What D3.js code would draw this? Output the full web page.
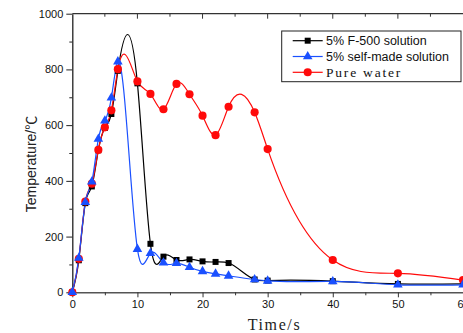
<!DOCTYPE html>
<html>
<head>
<meta charset="utf-8">
<script src="https://cdn.jsdelivr.net/npm/d3@7"></script>
<style>
html,body{margin:0;padding:0;background:#fff;}
svg{display:block;}
</style>
</head>
<body>
<svg id="chart" width="463" height="333"></svg>
<script>
// ---- data ----
const f500Time  = [0,1,2,3,4,5,6,7,10,12,14,16,18,20,22,24,28,30,40,50,60];
const f500Temp  = [0,115,320,380,510,590,640,795,750,174,128,116,118,111,109,105,46,42,40,30,30];
const selfTime  = [0,1,2,3,4,5,6,7,10,12,14,16,18,20,22,24,28,30,40,50,60];
const selfTemp  = [0,123,323,397,550,616,698,828,155,140,106,104,90,75,66,59,46,41,39,27,27];
const waterTime = [0,1,2,3,4,5,6,7,10,12,14,16,18,20,22,24,28,30,40,50,60];
const waterTemp = [0,120,326,390,511,592,653,801,757,712,657,748,711,634,564,666,646,514,116,68,44];
const seriesNames = ["5% F-500 solution","5% self-made solution","Pure water"];
const yTicks = [0,200,400,600,800,1000];
const xTicks = [0,10,20,30,40,50,60];

// ---- custom curve: natural cubic spline with x as parameter (Origin-like "Spline") ----
function SplineX(context){ this._context = context; }
SplineX.prototype = {
  areaStart(){ this._line = 0; },
  areaEnd(){ this._line = NaN; },
  lineStart(){ this._x = []; this._y = []; },
  point(x,y){ this._x.push(+x); this._y.push(+y); },
  lineEnd(){
    const X = this._x, Y = this._y, n = X.length, c = this._context;
    if(!n) return;
    c.moveTo(X[0],Y[0]);
    if(n === 2){ c.lineTo(X[1],Y[1]); return; }
    const h = [], M = new Array(n).fill(0);
    for(let i=0;i<n-1;i++) h.push(X[i+1]-X[i]);
    const a=[],b=[],cc=[],r=[];
    for(let i=1;i<n-1;i++){
      a.push(h[i-1]); b.push(2*(h[i-1]+h[i])); cc.push(h[i]);
      r.push(6*((Y[i+1]-Y[i])/h[i] - (Y[i]-Y[i-1])/h[i-1]));
    }
    const m = b.length;
    for(let i=1;i<m;i++){
      const w = a[i]/b[i-1];
      b[i] -= w*cc[i-1]; r[i] -= w*r[i-1];
    }
    const sol = new Array(m);
    sol[m-1] = r[m-1]/b[m-1];
    for(let i=m-2;i>=0;i--) sol[i] = (r[i]-cc[i]*sol[i+1])/b[i];
    for(let i=0;i<m;i++) M[i+1] = sol[i];
    for(let i=0;i<n-1;i++){
      const hi = h[i], s = (Y[i+1]-Y[i])/hi;
      const d0 = s - hi*(2*M[i]+M[i+1])/6;
      const d1 = s + hi*(M[i]+2*M[i+1])/6;
      c.bezierCurveTo(X[i]+hi/3, Y[i]+d0*hi/3, X[i+1]-hi/3, Y[i+1]-d1*hi/3, X[i+1], Y[i+1]);
    }
  }
};
const curveSplineX = ctx => new SplineX(ctx);

// ---- layout ----
const svg = d3.select("#chart");
const x = d3.scaleLinear().domain([0,60]).range([72.3,463]);
const y = d3.scaleLinear().domain([0,1000]).range([292.3,13.7]);
const axisColor = "#333";
const sans = "Arial, 'Liberation Sans', sans-serif";
const serif = "'Liberation Serif', 'DejaVu Serif', serif";

// frame top line
svg.append("line").attr("x1",x(0)).attr("x2",x(60)).attr("y1",y(1000)).attr("y2",y(1000))
  .attr("stroke",axisColor).attr("stroke-width",1.2);

// top inner ticks
const topTicks = d3.range(5,60,5);
svg.append("g").selectAll("line").data(topTicks).join("line")
  .attr("x1",d=>x(d)).attr("x2",d=>x(d)).attr("y1",y(1000)).attr("y2",d=>y(1000)+(d%10===0?5:3))
  .attr("stroke",axisColor).attr("stroke-width",1);

// bottom axis
const xAxis = d3.axisBottom(x).tickValues(xTicks).tickFormat(d3.format("d")).tickSize(5).tickSizeOuter(0).tickPadding(3);
const gx = svg.append("g").attr("transform",`translate(0,${y(0)})`).call(xAxis);
gx.select(".domain").attr("stroke","#555").attr("stroke-width",1.5);
gx.selectAll(".tick line").attr("stroke","#333").attr("stroke-width",1);
gx.selectAll(".tick text").attr("font-family",sans).attr("font-size",11).attr("fill","#111");
svg.append("g").attr("transform",`translate(0,${y(0)})`)
  .call(d3.axisBottom(x).tickValues(d3.range(5,60,10)).tickSize(3).tickFormat(""))
  .call(g=>{g.select(".domain").remove(); g.selectAll("line").attr("stroke","#333");});

// left axis
const yAxis = d3.axisLeft(y).tickValues(yTicks).tickFormat(d3.format("d")).tickSize(6).tickSizeOuter(0).tickPadding(3);
const gy = svg.append("g").attr("transform",`translate(${x(0)},0)`).call(yAxis);
gy.select(".domain").attr("stroke","#222").attr("stroke-width",1.3);
gy.selectAll(".tick line").attr("stroke","#222").attr("stroke-width",1);
gy.selectAll(".tick text").attr("font-family",sans).attr("font-size",11).attr("fill","#111");
svg.append("g").attr("transform",`translate(${x(0)},0)`)
  .call(d3.axisLeft(y).tickValues(d3.range(100,1000,200)).tickSize(3).tickFormat(""))
  .call(g=>{g.select(".domain").remove(); g.selectAll("line").attr("stroke","#222");});

// axis titles
svg.append("text").attr("x",274.5).attr("y",329.5).attr("text-anchor","middle")
  .attr("font-family",serif).attr("font-size",16).attr("letter-spacing",1.6).attr("fill","#222")
  .text("Time/s");
const yt = svg.append("text").attr("transform","translate(36,164) rotate(-90)").attr("text-anchor","middle")
  .attr("font-family",sans).attr("font-size",14).attr("fill","#222");
yt.append("tspan").text("Temperature/");
yt.append("tspan").attr("font-family","'Noto Sans CJK SC', sans-serif").text("℃");

// series
const series = [
  {name:seriesNames[0], t:f500Time, v:f500Temp, color:"#000000", shape:"square"},
  {name:seriesNames[2], t:waterTime, v:waterTemp, color:"#ff0a0a", shape:"circle"},
  {name:seriesNames[1], t:selfTime, v:selfTemp, color:"#1a50ff", shape:"triangle"}
];
const symType = {square:d3.symbolSquare, circle:d3.symbolCircle, triangle:d3.symbolTriangle};
const symSize = {square:36, circle:52, triangle:40};
const line = d3.line().x(d=>x(d[0])).y(d=>y(d[1])).curve(curveSplineX);

series.forEach(s=>{
  const pts = s.t.map((t,i)=>[t,s.v[i]]);
  svg.append("path").datum(pts).attr("d",line).attr("fill","none").attr("stroke",s.color).attr("stroke-width",1.2);
});
series.forEach(s=>{
  const pts = s.t.map((t,i)=>[t,s.v[i]]);
  svg.append("g").selectAll("path").data(pts).join("path")
    .attr("transform",d=>`translate(${x(d[0])},${y(d[1])})`)
    .attr("d",d3.symbol().type(symType[s.shape]).size(symSize[s.shape]))
    .attr("fill",s.color);
});

// legend
const legend = svg.append("g");
legend.append("rect").attr("x",281.7).attr("y",31).attr("width",179.3).attr("height",50.7)
  .attr("fill","#fff").attr("stroke","#222").attr("stroke-width",1);
const legItems = [
  {name:seriesNames[0], color:"#000000", shape:"square", font:sans, size:12.5, ls:0},
  {name:seriesNames[1], color:"#1a50ff", shape:"triangle", font:sans, size:12.5, ls:0},
  {name:seriesNames[2], color:"#ff0a0a", shape:"circle", font:serif, size:13.5, ls:1.8}
];
legItems.forEach((it,i)=>{
  const cy = 40.7 + i*15.8;
  legend.append("line").attr("x1",292.7).attr("x2",322.7).attr("y1",cy).attr("y2",cy)
    .attr("stroke",it.color).attr("stroke-width",1.2);
  legend.append("path").attr("transform",`translate(307.7,${cy})`)
    .attr("d",d3.symbol().type(symType[it.shape]).size(symSize[it.shape])).attr("fill",it.color);
  legend.append("text").attr("x",326).attr("y",cy+4.3)
    .attr("font-family",it.font).attr("font-size",it.size).attr("letter-spacing",it.ls).attr("fill","#111").text(it.name);
});
</script>
</body>
</html>
